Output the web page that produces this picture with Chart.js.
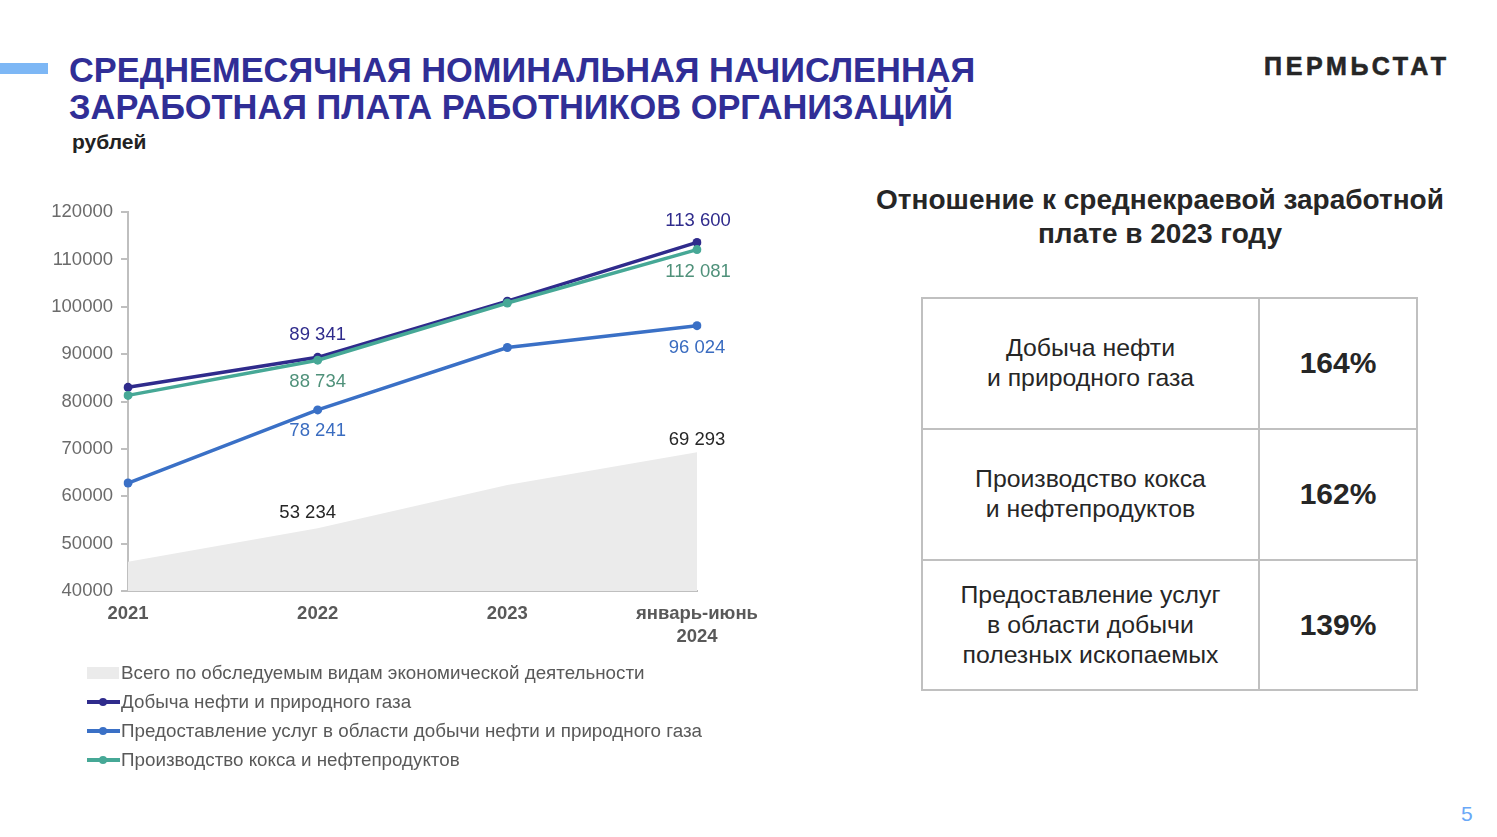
<!DOCTYPE html>
<html lang="ru">
<head>
<meta charset="utf-8">
<script src="https://cdn.jsdelivr.net/npm/chart.js@4.4.1/dist/chart.umd.min.js"></script>
<style>
  html, body { margin: 0; padding: 0; background: #fff; }
  body { width: 1497px; height: 837px; position: relative; overflow: hidden; font-family: "Liberation Sans", Arial, sans-serif; }
  .accent { position: absolute; left: 0; top: 63px; width: 48px; height: 11px; background: #7db7f5; }
  .title { position: absolute; left: 69px; top: 52px; font-weight: bold; font-size: 34.4px; line-height: 37px; color: #302e96; white-space: nowrap; }
  .unit { position: absolute; left: 72px; top: 130px; font-weight: bold; font-size: 21px; color: #222; }
  .brand { position: absolute; left: 1264px; top: 52px; font-weight: 900; font-size: 25px; letter-spacing: 3.7px; color: #262626; -webkit-text-stroke: 0.6px #262626; }
  .page { position: absolute; left: 1461px; top: 802px; font-size: 21px; color: #6aa8f7; }
  .rhead { position: absolute; left: 860px; width: 600px; top: 183px; text-align: center; font-weight: bold; font-size: 28px; line-height: 34px; color: #262626; }
  table.ratio { position: absolute; left: 921px; top: 297px; border-collapse: collapse; }
  table.ratio td { border: 2px solid #c0c0c0; height: 128.8px; padding: 0; text-align: center; color: #262626; }
  table.ratio td.lab { width: 335px; font-size: 24.8px; line-height: 30px; }
  table.ratio td.val { width: 156px; font-size: 30px; font-weight: bold; }
  #wrap { position: absolute; left: 30px; top: 193px; width: 800px; height: 468px; }
  #legend { position: absolute; left: 87px; top: 658px; font-size: 18.8px; color: #595959; }
  #legend .item { height: 29px; display: flex; align-items: center; white-space: nowrap; }
  #legend .sw { width: 33px; height: 24px; position: relative; margin-right: 1px; }
  #legend .sw .rect { position: absolute; left: 0; top: 6px; width: 32px; height: 12px; }
  #legend .sw .ln { position: absolute; left: 0; top: 10px; width: 33px; height: 4px; }
  #legend .sw .dot { position: absolute; left: 12px; top: 8px; width: 8px; height: 8px; border-radius: 50%; }
</style>
</head>
<body>
<div class="accent"></div>
<div class="title">СРЕДНЕМЕСЯЧНАЯ НОМИНАЛЬНАЯ НАЧИСЛЕННАЯ<br>ЗАРАБОТНАЯ ПЛАТА РАБОТНИКОВ ОРГАНИЗАЦИЙ</div>
<div class="unit">рублей</div>
<div class="brand">ПЕРМЬСТАТ</div>
<div class="page">5</div>
<div class="rhead">Отношение к среднекраевой заработной<br>плате в 2023 году</div>
<table class="ratio" id="ratio"></table>
<div id="wrap"><canvas id="c"></canvas></div>
<div id="legend"></div>
<script>
// ---- data ----
const categories = ["2021", "2022", "2023", ["январь-июнь", "2024"]];
const totalAll   = [46200, 53234, 62400, 69293];
const oilGas     = [83000, 89341, 101200, 113600];
const services   = [62800, 78241, 91400, 96024];
const coke       = [81300, 88734, 100800, 112081];
const seriesNames = [
  "Всего по обследуемым видам экономической деятельности",
  "Добыча нефти и природного газа",
  "Предоставление услуг в области добычи нефти и природного газа",
  "Производство кокса и нефтепродуктов"
];
const labeledIdx = [1, 3];
const yTicks = { min: 40000, max: 120000, step: 10000 };

const tableLabels = [
  ["Добыча нефти", "и природного газа"],
  ["Производство кокса", "и нефтепродуктов"],
  ["Предоставление услуг", "в области добычи", "полезных ископаемых"]
];
const tableValues = ["164%", "162%", "139%"];

// ---- table ----
const tbl = document.getElementById('ratio');
tableLabels.forEach((l, i) => {
  const tr = document.createElement('tr');
  const a = document.createElement('td'); a.className = 'lab'; a.innerHTML = l.join('<br>');
  const b = document.createElement('td'); b.className = 'val'; b.textContent = tableValues[i];
  tr.appendChild(a); tr.appendChild(b); tbl.appendChild(tr);
});

// ---- chart ----
const FONT = '"Liberation Sans", Arial, sans-serif';
const fmt = v => String(v).replace(/\B(?=(\d{3})+(?!\d))/g, ' ');

const labelPlugin = {
  id: 'valLabels',
  afterDatasetsDraw(chart) {
    const ctx = chart.ctx;
    chart.data.datasets.forEach((ds, di) => {
      const cfg = ds.valueLabel; if (!cfg) return;
      const meta = chart.getDatasetMeta(di);
      labeledIdx.forEach(i => {
        const p = meta.data[i];
        const off = cfg.offsets[i] || { dx: 0, dy: -20 };
        ctx.save();
        ctx.font = '18.5px ' + FONT;
        ctx.fillStyle = cfg.color;
        ctx.textAlign = 'center';
        ctx.textBaseline = 'middle';
        ctx.fillText(fmt(ds.data[i]), p.x + off.dx, p.y + off.dy);
        ctx.restore();
      });
    });
  }
};

const navy = '#2f2b8c', blue = '#3a70c6', teal = '#46a896';
const datasets = [
  { label: seriesNames[0], data: totalAll, fill: 'start', backgroundColor: '#ebebeb', borderWidth: 0, pointRadius: 0, order: 4, tension: 0,
    valueLabel: { color: '#262626', offsets: { 1: { dx: -10, dy: -15 }, 3: { dx: 0, dy: -12 } } }, legendType: 'area' },
  { label: seriesNames[1], data: oilGas, borderColor: navy, backgroundColor: navy, borderWidth: 3.5, pointRadius: 4.5, pointBackgroundColor: navy, pointBorderWidth: 0, order: 2, fill: false,
    valueLabel: { color: '#2f2b8c', offsets: { 1: { dx: 0, dy: -22 }, 3: { dx: 1, dy: -22 } } } },
  { label: seriesNames[2], data: services, borderColor: blue, backgroundColor: blue, borderWidth: 3.5, pointRadius: 4.5, pointBackgroundColor: blue, pointBorderWidth: 0, order: 3, fill: false,
    valueLabel: { color: '#3a6cc0', offsets: { 1: { dx: 0, dy: 21 }, 3: { dx: 0, dy: 22 } } } },
  { label: seriesNames[3], data: coke, borderColor: teal, backgroundColor: teal, borderWidth: 3.5, pointRadius: 4.5, pointBackgroundColor: teal, pointBorderWidth: 0, order: 1, fill: false,
    valueLabel: { color: '#4f917a', offsets: { 1: { dx: 0, dy: 22 }, 3: { dx: 1, dy: 22 } } } }
];

const chart = new Chart(document.getElementById('c'), {
  type: 'line',
  data: { labels: categories, datasets },
  plugins: [labelPlugin],
  options: {
    responsive: true, maintainAspectRatio: false, animation: false,
    layout: { padding: { top: 14, left: 0, right: 133, bottom: 9 } },
    plugins: { legend: { display: false }, tooltip: { enabled: false } },
    scales: {
      x: {
        offset: false,
        grid: { display: false, drawTicks: false },
        border: { display: true, color: '#bfbfbf', width: 2 },
        ticks: { color: '#595959', font: { family: FONT, size: 18.5, weight: 'bold', lineHeight: 1.25 }, padding: 11, maxRotation: 0, autoSkip: false },
        afterFit(s) { s.height = 61; }
      },
      y: {
        min: yTicks.min, max: yTicks.max,
        grid: { drawOnChartArea: false, drawTicks: true, tickLength: 7, color: '#bfbfbf', lineWidth: 2 },
        border: { display: true, color: '#bfbfbf', width: 2 },
        ticks: { stepSize: yTicks.step, color: '#6b6b6b', font: { family: FONT, size: 18.5 }, padding: 8, callback: v => String(v) },
        afterFit(s) { s.width = 98; }
      }
    }
  }
});

// ---- legend ----
const lg = document.getElementById('legend');
chart.data.datasets.forEach(ds => {
  const it = document.createElement('div'); it.className = 'item';
  const sw = document.createElement('div'); sw.className = 'sw';
  if (ds.legendType === 'area') {
    sw.innerHTML = '<div class="rect" style="background:' + ds.backgroundColor + '"></div>';
  } else {
    sw.innerHTML = '<div class="ln" style="background:' + ds.borderColor + '"></div><div class="dot" style="background:' + ds.borderColor + '"></div>';
  }
  const t = document.createElement('span'); t.textContent = ds.label;
  it.appendChild(sw); it.appendChild(t); lg.appendChild(it);
});
</script>
</body>
</html>
